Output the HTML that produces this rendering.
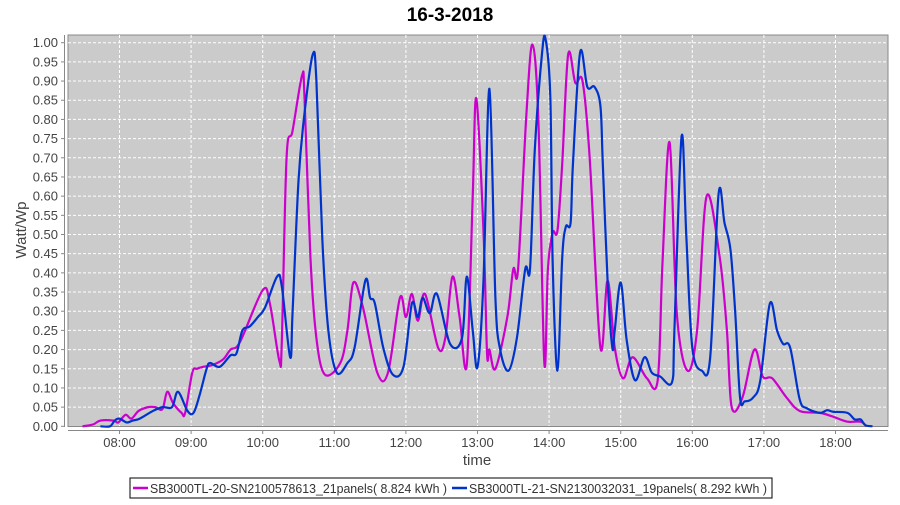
<!DOCTYPE html>
<html><head><meta charset="utf-8"><style>
body{margin:0;background:#fff;width:900px;height:500px;overflow:hidden;font-family:"Liberation Sans",sans-serif}
svg text{font-family:"Liberation Sans",sans-serif}
</style></head><body>
<svg id="chart" width="900" height="500">
<text x="450" y="21" text-anchor="middle" font-size="19" font-weight="bold" fill="#000">16-3-2018</text>
<rect x="68" y="35" width="820" height="391.5" fill="#cbcbcb" stroke="#888"/>
<g id="grid"></g>
<g id="axes"></g>
<g id="series"></g>
<text transform="translate(26,230) rotate(-90)" text-anchor="middle" font-size="15" fill="#444">Watt/Wp</text>
<text x="477" y="465" text-anchor="middle" font-size="15" fill="#444">time</text>
<g>
<rect x="130" y="478" width="642" height="20" fill="#fff" stroke="#000"/>
<g>
<line x1="133" y1="488" x2="148" y2="488" stroke="#cc00cc" stroke-width="2.5"/>
<text x="150" y="493" font-size="13" fill="#333" textLength="297" lengthAdjust="spacingAndGlyphs">SB3000TL-20-SN2100578613_21panels( 8.824 kWh )</text></g>
<g>
<line x1="452" y1="488" x2="467" y2="488" stroke="#0033cc" stroke-width="2.5"/>
<text x="469" y="493" font-size="13" fill="#333" textLength="298" lengthAdjust="spacingAndGlyphs">SB3000TL-21-SN2130032031_19panels( 8.292 kWh )</text></g>
</g>
</svg>
<script>
const xTickLabels=["08:00","09:00","10:00","11:00","12:00","13:00","14:00","15:00","16:00","17:00","18:00"];
const xTickMinutes=[480,540,600,660,720,780,840,900,960,1020,1080];
const yTicks=[0,0.05,0.1,0.15,0.2,0.25,0.3,0.35,0.4,0.45,0.5,0.55,0.6,0.65,0.7,0.75,0.8,0.85,0.9,0.95,1.0];
const magentaTimes=[449,458,464,475,479,485,490,496,504,510,516,520,525,532,535,541,545,550,558,567,573,581,600,606,614,616,620,625,633,635,640,645,652,665,671,676,684,696,705,715,720,725,730,736,747,753,759,765,771,776,779,785,788,790,795,805,810,814,821,826,831,836,839,843,847,851,856,862,868,874,883,889,895,902,910,922,931,935,941,947,956,964,972,983,989,993,1002,1012,1019,1027,1039,1050,1067,1078,1090,1101,1106];
const magentaValues=[0,0.005,0.015,0.015,0.01,0.03,0.02,0.04,0.05,0.05,0.045,0.09,0.06,0.035,0.035,0.14,0.15,0.155,0.16,0.175,0.2,0.22,0.355,0.32,0.17,0.22,0.70,0.77,0.915,0.86,0.44,0.23,0.135,0.165,0.25,0.375,0.31,0.14,0.14,0.335,0.285,0.345,0.275,0.345,0.205,0.23,0.39,0.285,0.16,0.60,0.855,0.51,0.19,0.2,0.15,0.285,0.41,0.41,0.815,0.995,0.80,0.165,0.41,0.505,0.51,0.685,0.97,0.895,0.9,0.70,0.205,0.38,0.205,0.125,0.18,0.125,0.12,0.425,0.74,0.295,0.145,0.25,0.60,0.44,0.25,0.05,0.075,0.20,0.13,0.125,0.075,0.04,0.035,0.025,0.012,0.012,0];
const blueTimes=[464,472,476,480,486,491,497,508,516,524,529,537,542,547,553,556,564,573,578,583,589,596,602,612,616,623,625,630,635,642,645,650,655,662,671,677,686,690,694,701,709,718,725,730,734,740,746,757,767,771,776,780,785,790,795,799,806,813,820,824,828,834,837,841,843,847,851,854,858,860,866,872,878,883,885,889,893,895,900,905,912,920,926,933,943,945,951,955,960,968,975,982,987,992,996,1000,1004,1011,1017,1025,1031,1036,1042,1050,1056,1067,1073,1078,1090,1096,1101,1105,1111];
const blueValues=[0,0,0.015,0.02,0.01,0.015,0.02,0.04,0.05,0.05,0.09,0.04,0.035,0.08,0.15,0.165,0.155,0.185,0.19,0.25,0.26,0.285,0.31,0.39,0.365,0.18,0.295,0.64,0.815,0.97,0.90,0.485,0.25,0.14,0.165,0.205,0.38,0.335,0.32,0.205,0.135,0.155,0.32,0.285,0.335,0.295,0.345,0.215,0.23,0.39,0.25,0.155,0.38,0.88,0.335,0.2,0.145,0.23,0.41,0.41,0.72,0.97,1.01,0.86,0.425,0.145,0.44,0.52,0.53,0.685,0.975,0.885,0.885,0.835,0.685,0.38,0.205,0.25,0.375,0.225,0.12,0.18,0.14,0.13,0.115,0.25,0.755,0.495,0.205,0.145,0.18,0.605,0.53,0.46,0.295,0.075,0.065,0.075,0.12,0.32,0.25,0.215,0.205,0.07,0.047,0.035,0.042,0.038,0.035,0.018,0.018,0.003,0];

const NS="http://www.w3.org/2000/svg";
const X=m=>119.5+(m-480)*71.6/60;
const Y=v=>426.3-v*383.6;
function mk(tag,attrs,parent){const e=document.createElementNS(NS,tag);for(const k in attrs)e.setAttribute(k,attrs[k]);parent.appendChild(e);return e;}
const grid=document.getElementById('grid'),axes=document.getElementById('axes'),series=document.getElementById('series');
yTicks.forEach((v,i)=>{
 if(v>0){const g=mk('line',{x1:68,x2:888,y1:Y(v),y2:Y(v),stroke:'#fff','stroke-dasharray':'3,2','stroke-width':1},grid);
 
 }
 const t=mk('text',{x:58,y:Y(v)+4.5,'text-anchor':'end','font-size':13,fill:'#444'},axes);
 t.textContent=v.toFixed(2);
 
 
 mk('line',{x1:61,x2:64,y1:Y(v),y2:Y(v),stroke:'#888'},axes);
});
mk('line',{x1:64.5,x2:64.5,y1:35,y2:427,stroke:'#888'},axes);
mk('line',{x1:68,x2:888,y1:430.5,y2:430.5,stroke:'#888'},axes);
xTickMinutes.forEach((m,i)=>{
 const g=mk('line',{x1:X(m),x2:X(m),y1:35,y2:426,stroke:'#fff','stroke-dasharray':'3,2'},grid);
 
 
 mk('line',{x1:X(m),x2:X(m),y1:431,y2:434,stroke:'#888'},axes);
 const t=mk('text',{x:X(m),y:447,'text-anchor':'middle','font-size':13,fill:'#444'},axes);
 t.textContent=xTickLabels[i];
 
 
});
function path(ts,vs){
 const p=ts.map((t,i)=>[X(t),Y(vs[i])]);
 let d='M'+p[0][0]+','+p[0][1];
 for(let i=0;i<p.length-1;i++){
  const p0=p[Math.max(0,i-1)],p1=p[i],p2=p[i+1],p3=p[Math.min(p.length-1,i+2)];
  const c1=[p1[0]+(p2[0]-p0[0])/6,p1[1]+(p2[1]-p0[1])/6];
  const c2=[p2[0]-(p3[0]-p1[0])/6,p2[1]-(p3[1]-p1[1])/6];
  d+=`C${c1[0]},${c1[1]} ${c2[0]},${c2[1]} ${p2[0]},${p2[1]}`;
 }
 return d;
}
const pm=mk('path',{d:path(magentaTimes,magentaValues),fill:'none',stroke:'#cc00cc','stroke-width':2.2,'stroke-linejoin':'round'},series);


const pb=mk('path',{d:path(blueTimes,blueValues),fill:'none',stroke:'#0033cc','stroke-width':2.2,'stroke-linejoin':'round'},series);


</script>
</body></html>
